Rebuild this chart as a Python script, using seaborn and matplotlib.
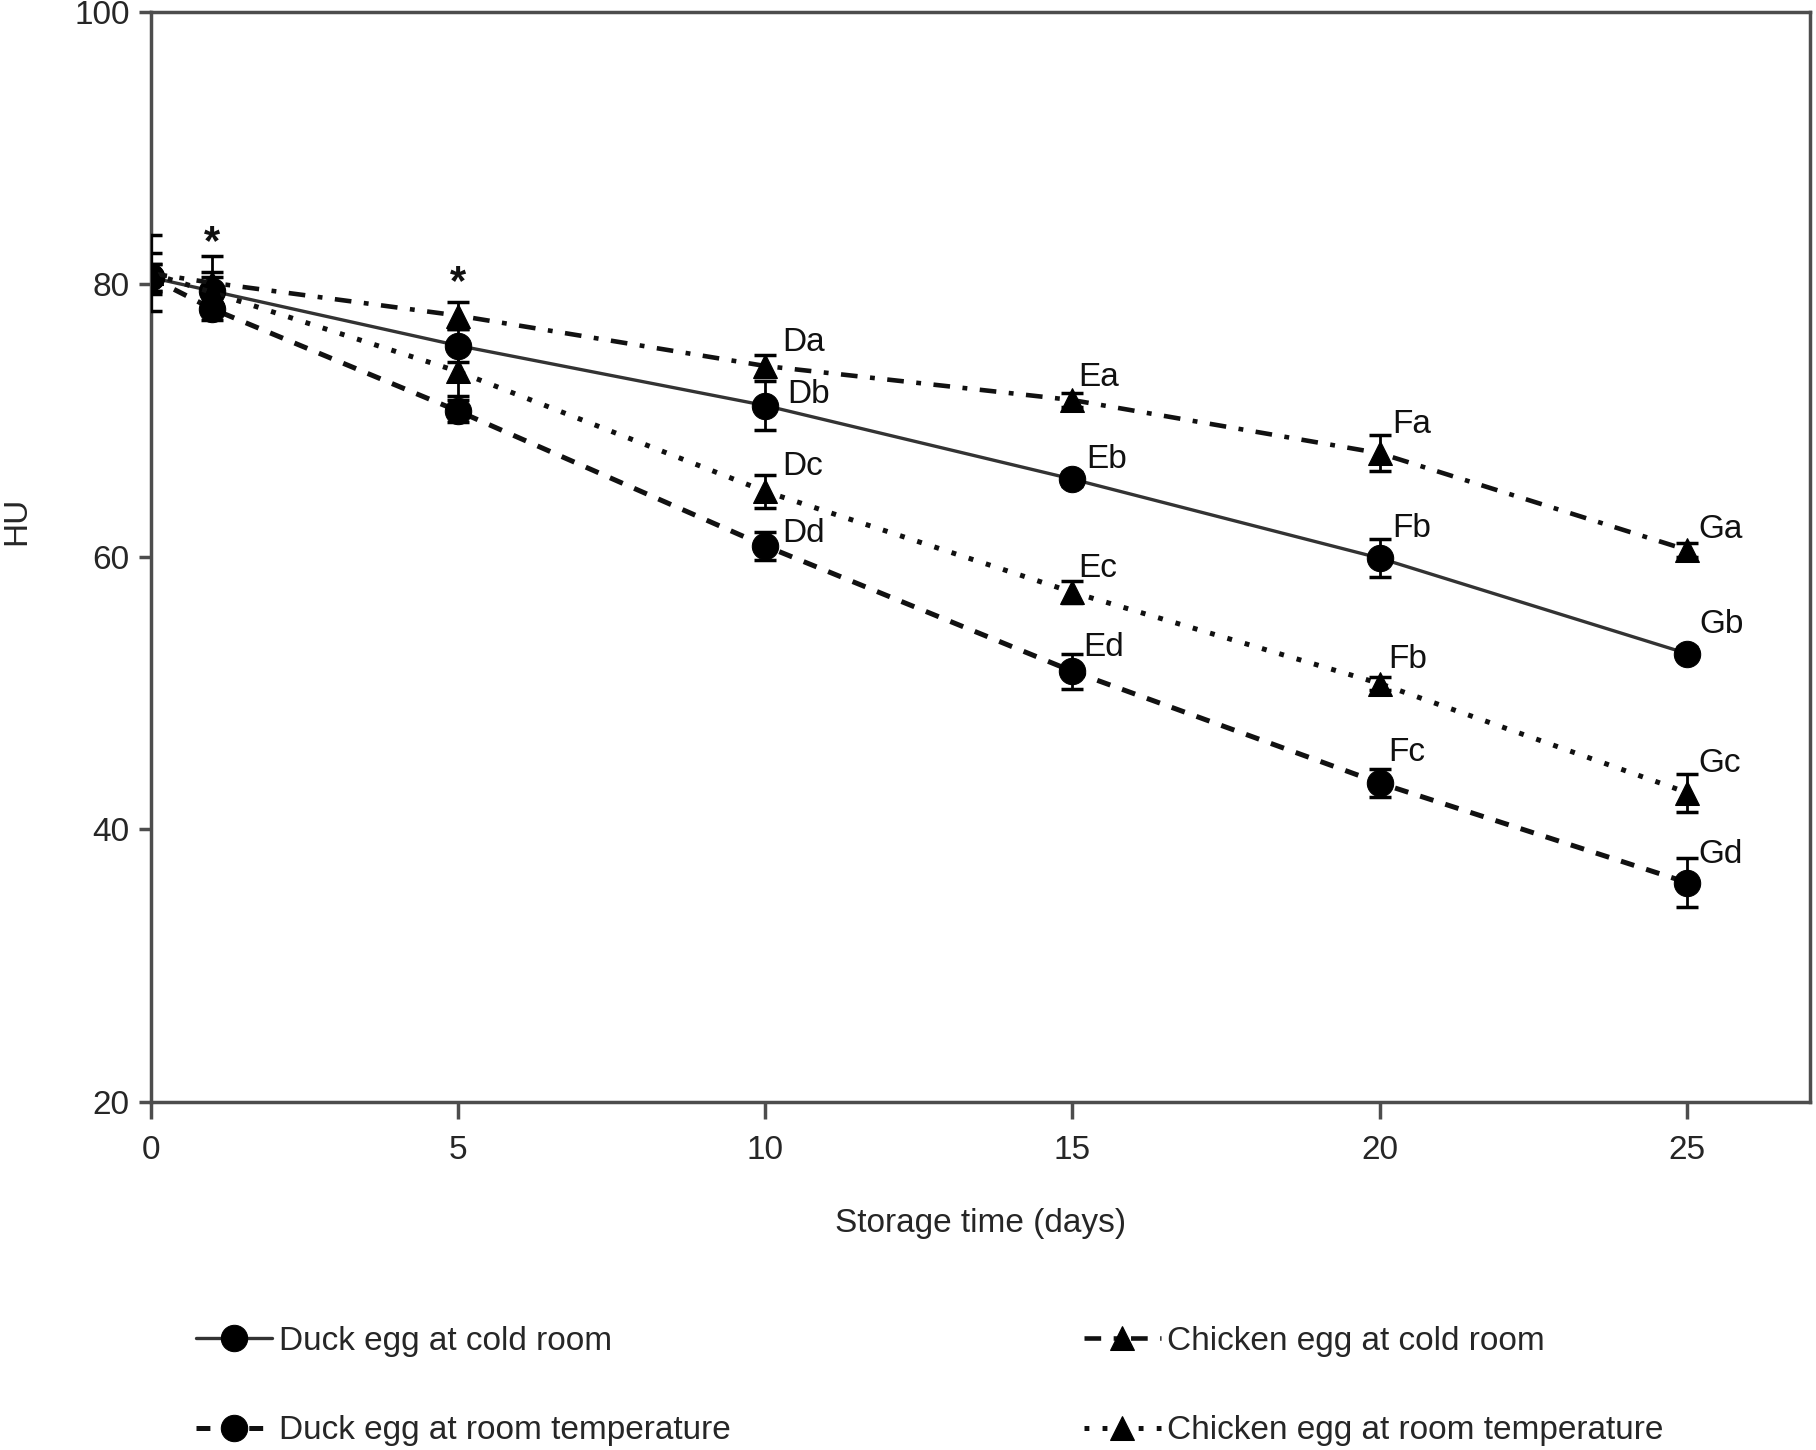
import matplotlib
matplotlib.use('Agg')
import matplotlib.pyplot as plt
import numpy as np
import pandas as pd
import seaborn as sns

# HU values
days = [0, 1, 5, 10, 15, 20, 25]
duck_cold = [80.5, 79.5, 75.5, 71.1, 65.7, 59.9, 52.9]
duck_room = [80.5, 78.2, 70.7, 60.8, 51.6, 43.4, 36.1]
chicken_cold = [80.8, 80.1, 77.7, 74.0, 71.5, 67.6, 60.5]
chicken_room = [80.8, 79.4, 73.6, 64.8, 57.4, 50.7, 42.7]

duck_cold_err = [1.0, 1.0, 1.2, 1.8, 0.5, 1.4, 0.5]
duck_room_err = [1.0, 0.8, 0.8, 1.0, 1.3, 1.0, 1.8]
chicken_cold_err = [2.8, 2.0, 1.0, 0.8, 0.5, 1.3, 0.5]
chicken_room_err = [1.5, 1.5, 1.8, 1.2, 0.8, 0.5, 1.4]

duck_cold_labels = ['', '', '', 'Db', 'Eb', 'Fb', 'Gb']
duck_room_labels = ['', '', '', 'Dd', 'Ed', 'Fc', 'Gd']
chicken_cold_labels = ['', '', '', 'Da', 'Ea', 'Fa', 'Ga']
chicken_room_labels = ['', '', '', 'Dc', 'Ec', 'Fb', 'Gc']

# label offsets (points) from each marker
duck_cold_off = [None, None, None, (16, 8), (10, 14), (9, 21), (9, 21)]
duck_room_off = [None, None, None, (12, 9), (8, 17), (6, 22), (8, 20)]
chicken_cold_off = [None, None, None, (12, 17), (4, 16), (9, 21), (8, 15)]
chicken_room_off = [None, None, None, (12, 18), (4, 17), (6, 17), (8, 21)]

star_days = [1, 5]
star_hu = [83.0, 80.1]

sns.set_style('ticks')
plt.rcParams['font.family'] = ['Liberation Sans', 'DejaVu Sans']
plt.rcParams['lines.scale_dashes'] = False

fig = plt.figure(figsize=(18.16, 14.5), dpi=100)
ax = fig.add_axes([0.0829, 0.240, 0.9138, 0.752])

series = [
    ('Duck egg at cold room', duck_cold, duck_cold_err, duck_cold_labels, duck_cold_off,
     'o', '-', 2.4, '#333333'),
    ('Duck egg at room temperature', duck_room, duck_room_err, duck_room_labels, duck_room_off,
     'o', (0, (10, 9)), 3.6, '#111111'),
    ('Chicken egg at cold room', chicken_cold, chicken_cold_err, chicken_cold_labels, chicken_cold_off,
     '^', (0, (12, 9, 3.5, 9)), 3.3, '#111111'),
    ('Chicken egg at room temperature', chicken_room, chicken_room_err, chicken_room_labels, chicken_room_off,
     '^', (0, (3.5, 9.5)), 3.6, '#111111'),
]

for name, vals, errs, labels, offs, mk, ls, lw, col in series:
    df = pd.DataFrame({'days': days, 'HU': vals})
    sns.lineplot(data=df, x='days', y='HU', ax=ax, label=name, color=col,
                 marker=mk, markersize=19 if mk == 'o' else 17, markeredgecolor='black',
                 markerfacecolor='black', linestyle=ls, linewidth=lw,
                 dash_capstyle='butt', zorder=3)
    ax.errorbar(days, vals, yerr=errs, fmt='none', ecolor='black', elinewidth=2,
                capsize=8, capthick=2.5, zorder=4)
    for d, v, lab, off in zip(days, vals, labels, offs):
        if lab:
            ax.annotate(lab, (d, v), xytext=off, textcoords='offset points',
                        ha='left', va='center', fontsize=24, color='#111111')

for d, v in zip(star_days, star_hu):
    ax.text(d, v, '*', ha='center', va='center', fontsize=30, fontweight='bold', color='#111111')

ax.set_xlim(0, 27)
ax.set_ylim(20, 100)
ax.set_xticks([0, 5, 10, 15, 20, 25])
ax.set_yticks([20, 40, 60, 80, 100])
ax.tick_params(axis='both', labelsize=24, width=2.5, color='#4d4d4d', length=9, pad=6)
ax.tick_params(axis='x', length=12, pad=12)
for s in ax.spines.values():
    s.set_visible(True)
    s.set_color('#4d4d4d')
    s.set_linewidth(2.5)

ax.set_xlabel('Storage time (days)', fontsize=24, labelpad=30)
ax.set_ylabel('HU', fontsize=24)
ax.yaxis.set_label_coords(-0.071, 0.533)

ax.get_legend().remove()
handles, labs = ax.get_legend_handles_labels()
handles = [h for h in handles if hasattr(h, 'get_linestyle')][:4]
fig.legend(handles, labs[:4], loc='upper left', bbox_to_anchor=(0.0985, 0.097), ncol=2,
           frameon=False, fontsize=24, handlelength=2.3, handletextpad=0.2,
           labelspacing=1.75, columnspacing=10.6, borderpad=0)

fig.savefig('out.png', dpi=100)
